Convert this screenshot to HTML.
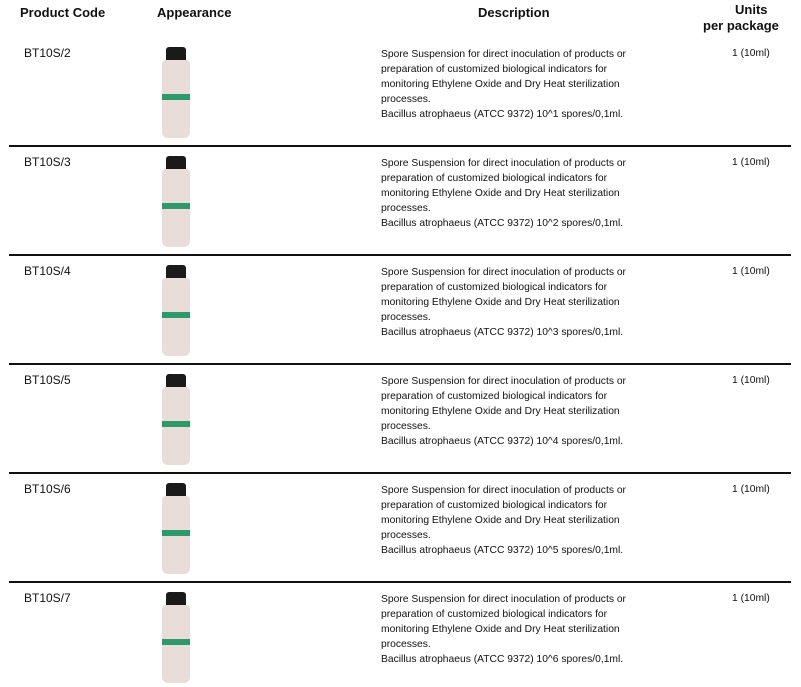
<!DOCTYPE html><html><head><style>
body{margin:0;width:801px;height:687px;background:#fff;position:relative;font-family:"Liberation Sans",sans-serif;color:#111;overflow:hidden}
.a{position:absolute;white-space:nowrap}
.h{font-weight:bold;font-size:13px}
.t{font-size:10.3px;line-height:15px}
.line{position:absolute;left:9px;width:782px;height:2px;background:#111}
.cap{position:absolute;width:20px;height:14px;background:#1a1a1a;border-radius:3px 3px 1px 1px}
.body{position:absolute;width:28px;height:78px;background:#e8ddd8;border-radius:4px 4px 6px 6px}
.lab{position:absolute;width:28px;height:6px;background:#2e9a6a}
</style></head><body>
<div class="a h" style="left:20px;top:5px">Product Code</div>
<div class="a h" style="left:157px;top:5px">Appearance</div>
<div class="a h" style="left:478px;top:5px">Description</div>
<div class="a h" style="left:735px;top:2px">Units</div>
<div class="a h" style="left:703px;top:18px">per package</div>
<div id="rows"></div>
<script>
var s="",ex=["10^1","10^2","10^3","10^4","10^5","10^6"];
for(var i=0;i<6;i++){var y=109*i;
s+='<div class="a t" style="left:24px;top:'+(46+y)+'px;font-size:12px">BT10S/'+(i+2)+'</div>';
s+='<div class="cap" style="left:166px;top:'+(47+y)+'px"></div><div class="body" style="left:162px;top:'+(60+y)+'px"></div><div class="lab" style="left:162px;top:'+(94+y)+'px"></div>';
s+='<div class="a t" style="left:381px;top:'+(47+y)+'px">Spore Suspension for direct inoculation of products or<br>preparation of customized biological indicators for<br>monitoring Ethylene Oxide and Dry Heat sterilization<br>processes.<br>Bacillus atrophaeus (ATCC 9372) '+ex[i]+' spores/0,1ml.</div>';
s+='<div class="a t" style="left:732px;top:'+(46+y)+'px">1 (10ml)</div>';
if(i<5)s+='<div class="line" style="top:'+(145+y)+'px"></div>';}
document.getElementById('rows').innerHTML=s;
</script>
</body></html>
